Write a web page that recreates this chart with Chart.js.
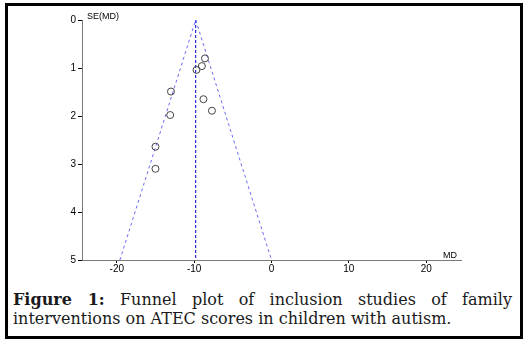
<!DOCTYPE html>
<html>
<head>
<meta charset="utf-8">
<script src="https://cdn.jsdelivr.net/npm/chart.js@4"></script>
<style>
  body { margin: 0; background: #fff; width: 529px; height: 344px; overflow: hidden; }
  #box {
    position: absolute; left: 5px; top: 3px; width: 518px; height: 336px;
    box-sizing: border-box; border: 3px solid #000;
  }
  #wrap { position: absolute; left: 0; top: 0; width: 529px; height: 290px; }
  #caption {
    position: absolute; left: 13px; top: 290px; width: 499px;
    font-family: "DejaVu Serif", serif; font-size: 16px; line-height: 19px;
    color: #1a1a1a; text-align: justify;
  }
</style>
</head>
<body>
<div id="box"></div>
<div id="wrap"><canvas id="funnel"></canvas></div>
<div id="caption"><b>Figure 1:</b> Funnel plot of inclusion studies of family interventions on ATEC scores in children with autism.</div>
<script>
// study effects (MD) and standard errors
const studyMD = [-8.6, -9.0, -9.7, -13.0, -8.8, -7.7, -13.1, -15.0, -15.0];
const studySE = [0.80, 0.96, 1.04, 1.49, 1.65, 1.89, 1.98, 2.64, 3.10];

// pooled estimate and 95% limits
const pooledMD = -9.8;
const funnelMD = [-19.6, -9.8, 0];
const funnelSE = [5, 0, 5];

const xTicks = [-20, -10, 0, 10, 20];
const yTicks = [0, 1, 2, 3, 4, 5];

const toPoints = (xs, ys) => xs.map((x, i) => ({ x: x, y: ys[i] }));

// axis captions at the ends of the axes
const axisCaptions = {
  id: 'axisCaptions',
  afterDraw(chart) {
    const ctx = chart.ctx;
    const x = chart.scales.x;
    const y = chart.scales.y;
    ctx.save();
    ctx.font = '9px "Liberation Sans", Arial, sans-serif';
    ctx.fillStyle = '#000';
    ctx.textBaseline = 'alphabetic';
    ctx.textAlign = 'left';
    ctx.fillText('SE(MD)', y.right + 5, y.getPixelForValue(0) - 1);
    ctx.textAlign = 'right';
    ctx.fillText('MD', x.right - 4, y.getPixelForValue(5) - 2);
    ctx.restore();
  }
};

const config = {
  type: 'scatter',
  data: {
    datasets: [
      {
        label: 'Studies',
        data: toPoints(studyMD, studySE),
        pointStyle: 'circle',
        pointRadius: 3.5,
        borderColor: '#444',
        backgroundColor: 'rgba(0,0,0,0)',
        borderWidth: 1,
      },
      {
        label: 'Funnel',
        data: toPoints(funnelMD, funnelSE),
        showLine: true,
        pointRadius: 0,
        borderColor: '#6b6bf2',
        borderWidth: 1,
        borderDash: [3, 3],
      },
      {
        label: 'Pooled',
        data: toPoints([pooledMD, pooledMD], [0, 5]),
        showLine: true,
        pointRadius: 0,
        borderColor: '#0000dd',
        borderWidth: 1,
        borderDash: [3, 2],
      },
    ],
  },
  options: {
    responsive: true,
    maintainAspectRatio: false,
    animation: false,
    layout: { padding: { left: 0, top: 20, right: 68, bottom: 10 } },
    plugins: { legend: { display: false }, tooltip: { enabled: false } },
    scales: {
      x: {
        type: 'linear',
        min: -24.5,
        max: 24.5,
        afterFit(scale) { scale.height = 20; },
        afterBuildTicks(scale) { scale.ticks = xTicks.map(v => ({ value: v })); },
        border: { color: '#7a7a7a', width: 1 },
        grid: { drawOnChartArea: false, color: '#000', tickLength: 3 },
        ticks: {
          padding: 0,
          color: '#000',
          font: { family: '"Liberation Sans", Arial, sans-serif', size: 10 },
        },
      },
      y: {
        type: 'linear',
        reverse: true,
        min: 0,
        max: 5,
        afterFit(scale) { scale.width = 82; },
        afterBuildTicks(scale) { scale.ticks = yTicks.map(v => ({ value: v })); },
        border: { color: '#7a7a7a', width: 1 },
        grid: { drawOnChartArea: false, color: '#000', tickLength: 4 },
        ticks: {
          padding: 2,
          color: '#000',
          font: { family: '"Liberation Sans", Arial, sans-serif', size: 10 },
        },
      },
    },
  },
  plugins: [axisCaptions],
};

const funnelChart = new Chart(document.getElementById('funnel'), config);
</script>
</body>
</html>
